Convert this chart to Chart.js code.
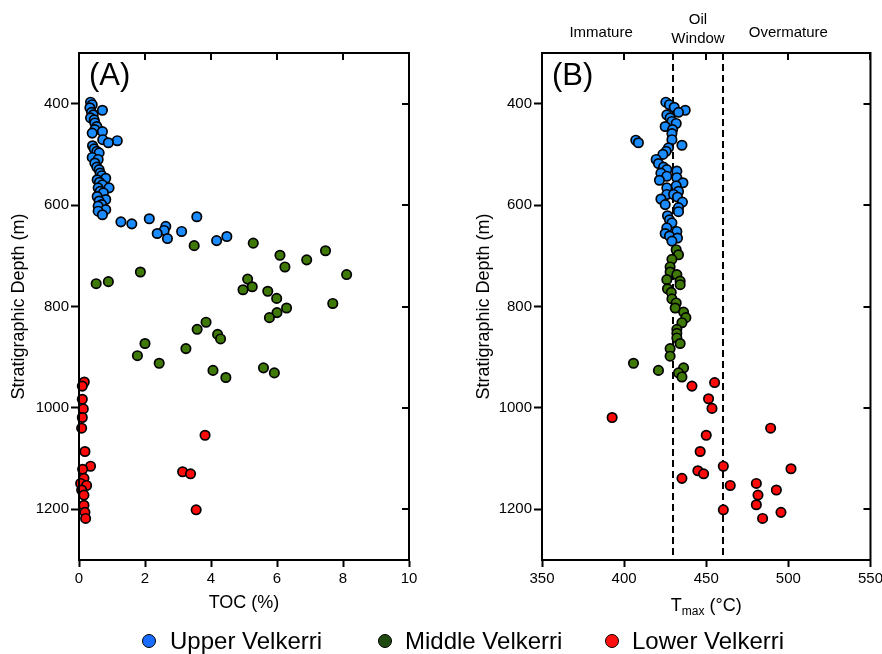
<!DOCTYPE html>
<html>
<head>
<meta charset="utf-8">
<script src="https://cdn.jsdelivr.net/npm/chart.js@4.4.1/dist/chart.umd.min.js"></script>
<style>
  html, body { margin: 0; padding: 0; background: #fff; }
  body { width: 882px; height: 654px; position: relative; overflow: hidden; font-family: "Liberation Sans", Arial, sans-serif; }
  .panel { position: absolute; top: 0; width: 441px; height: 654px; }
  #panelA { left: 0; }
  #panelB { left: 441px; width: 445px; }
  #legend { position: absolute; left: 0; top: 626px; width: 882px; height: 30px; font-size: 24px; color: #000; }
  #legend span { position: absolute; top: 0; white-space: nowrap; line-height: 30px; }
  #legend i { position: absolute; top: 8px; width: 12px; height: 12px; border-radius: 50%; border: 1px solid #000; }
</style>
</head>
<body>
<div class="panel" id="panelA"><canvas id="chartA"></canvas></div>
<div class="panel" id="panelB"><canvas id="chartB"></canvas></div>
<div id="legend">
  <i style="left:142px;background:#1a6cff"></i><span style="left:170px">Upper Velkerri</span>
  <i style="left:378px;background:#1f4a10"></i><span style="left:405px">Middle Velkerri</span>
  <i style="left:605px;background:#ff1010"></i><span style="left:632px">Lower Velkerri</span>
</div>
<script>
// axis ticks
const depthTicks = [400, 600, 800, 1000, 1200];
const tocTicks = [0, 2, 4, 6, 8, 10];
const tmaxTicks = [350, 400, 450, 500, 550];

// oil window bounds and zone labels (panel B)
const windowBounds = [430, 460];
const zoneLabels = [['Immature'], ['Oil', 'Window'], ['Overmature']];
const zonePositions = [386, 445, 500];

// Panel A: TOC (%) vs depth (m)
const upperToc = [0.35, 0.40, 0.33, 0.71, 0.38, 0.43, 0.35, 0.46, 0.48, 0.54, 0.48, 0.71, 0.40, 0.72, 1.16, 0.89, 0.41, 0.46, 0.54, 0.61, 0.40, 0.58, 0.48, 0.54, 0.61, 0.64, 0.69, 0.81, 0.55, 0.62, 0.71, 0.91, 0.58, 0.64, 0.74, 0.55, 0.81, 0.61, 0.69, 0.58, 0.81, 0.58, 0.71, 3.57, 2.13, 1.27, 1.60, 2.63, 2.58, 3.11, 2.37, 4.48, 2.68, 4.17];
const upperTocDepth = [397, 402, 408, 413, 417, 422, 428, 432, 438, 445, 451, 455, 458, 471, 473, 477, 483, 489, 494, 497, 506, 510, 517, 525, 530, 537, 542, 547, 550, 555, 560, 566, 566, 573, 576, 583, 589, 592, 599, 602, 609, 612, 619, 623, 627, 633, 637, 642, 650, 652, 656, 662, 666, 670];

const middleToc = [5.28, 3.49, 7.47, 6.09, 6.90, 6.24, 1.86, 8.11, 5.11, 0.89, 0.52, 5.25, 4.97, 5.72, 5.99, 7.69, 6.29, 6.00, 5.77, 3.85, 3.58, 4.20, 4.29, 2.00, 3.24, 1.77, 2.43, 5.59, 4.06, 5.92, 4.45];
const middleTocDepth = [675, 680, 690, 699, 708, 722, 732, 737, 746, 751, 755, 761, 767, 770, 784, 794, 803, 812, 822, 831, 845, 855, 864, 873, 883, 897, 912, 921, 926, 931, 940];

const lowerToc = [0.16, 0.10, 0.10, 0.13, 0.10, 0.08, 3.82, 0.18, 0.35, 0.11, 3.14, 3.38, 0.15, 0.05, 0.23, 0.08, 0.15, 0.15, 3.55, 0.18, 0.20];
const lowerTocDepth = [949, 957, 983, 1002, 1019, 1040, 1054, 1086, 1115, 1121, 1126, 1130, 1139, 1149, 1153, 1162, 1172, 1192, 1201, 1206, 1218];

// Panel B: Tmax (°C) vs depth (m)
const upperTmax = [425.4, 427.6, 430.5, 437.2, 433.1, 426.0, 428.0, 429.1, 431.7, 425.0, 429.5, 429.1, 429.1, 407.1, 408.7, 435.2, 427.0, 425.6, 423.6, 419.5, 420.9, 424.0, 426.0, 432.1, 422.4, 426.0, 432.1, 421.5, 435.8, 431.7, 426.0, 433.1, 426.0, 430.1, 432.5, 422.4, 435.5, 425.0, 433.1, 433.1, 426.4, 427.6, 429.1, 426.0, 432.1, 425.0, 427.6, 432.5, 429.1];
const upperTmaxDepth = [397, 402, 407, 413, 417, 422, 428, 435, 439, 445, 451, 459, 471, 472, 477, 482, 487, 494, 500, 510, 518, 525, 530, 533, 537, 543, 546, 551, 556, 562, 566, 573, 579, 579, 584, 588, 594, 599, 605, 613, 621, 629, 635, 645, 652, 656, 661, 665, 671];

const middleTmax = [431.7, 433.1, 429.1, 428.0, 428.0, 432.1, 426.0, 434.1, 434.1, 426.4, 428.7, 429.1, 431.7, 431.1, 436.2, 437.6, 435.2, 432.1, 432.1, 432.1, 434.1, 428.0, 428.0, 405.7, 436.2, 420.9, 433.1, 435.2];
const middleTmaxDepth = [688, 698, 707, 722, 732, 737, 747, 750, 757, 765, 772, 785, 793, 803, 811, 822, 832, 845, 853, 862, 873, 883, 898, 912, 921, 926, 931, 939];

const lowerTmax = [455.1, 441.3, 451.4, 453.5, 392.7, 489.2, 450.0, 446.3, 460.4, 501.6, 444.9, 448.4, 435.2, 480.5, 464.6, 492.7, 481.5, 480.5, 460.4, 495.5, 484.3];
const lowerTmaxDepth = [950, 957, 982, 1001, 1019, 1040, 1054, 1086, 1115, 1120, 1124, 1130, 1139, 1149, 1153, 1162, 1172, 1191, 1201, 1206, 1218];

const colors = { upper: '#1a8cff', middle: '#3f7a08', lower: '#ff0a0a' };
const FONT = '"Liberation Sans", Arial, sans-serif';

Chart.defaults.font.family = FONT;
Chart.defaults.color = '#000';

function pairs(xs, ys) {
    return xs.map((v, i) => ({ x: v, y: ys[i] }));
}

function series(label, xs, ys, color) {
    return {
        label: label,
        data: pairs(xs, ys),
        backgroundColor: color,
        borderColor: '#000',
        borderWidth: 1.7,
        pointRadius: 4.7,
        pointHoverRadius: 4.7,
        clip: false
    };
}

// frame, mirrored inward ticks on top/right, panel letter, extras
const framePlugin = {
    id: 'frame',
    beforeDatasetsDraw(chart, args, opts) {
        const { ctx, chartArea: a, scales: { x } } = chart;
        if (!opts.dashes) return;
        ctx.save();
        ctx.strokeStyle = '#000';
        ctx.lineWidth = 2;
        ctx.setLineDash([7, 4]);
        opts.dashes.forEach(v => {
            const px = Math.round(x.getPixelForValue(v));
            ctx.beginPath();
            ctx.moveTo(px, a.top);
            ctx.lineTo(px, a.bottom);
            ctx.stroke();
        });
        ctx.restore();
    },
    afterDraw(chart, args, opts) {
        const { ctx, chartArea: a, scales: { x, y } } = chart;
        ctx.save();
        ctx.strokeStyle = '#000';
        ctx.lineWidth = 2;
        ctx.strokeRect(a.left, a.top, a.width, a.height);
        ctx.beginPath();
        x.ticks.forEach(t => {
            const px = Math.round(x.getPixelForValue(t.value));
            ctx.moveTo(px, a.top);
            ctx.lineTo(px, a.top + 7);
        });
        y.ticks.forEach(t => {
            const py = Math.round(y.getPixelForValue(t.value));
            ctx.moveTo(a.right, py);
            ctx.lineTo(a.right - 7, py);
        });
        ctx.stroke();

        ctx.fillStyle = '#000';
        ctx.font = '31px ' + FONT;
        ctx.textAlign = 'left';
        ctx.textBaseline = 'alphabetic';
        ctx.fillText(opts.letter, a.left + 10, a.top + 32);

        if (opts.zones) {
            ctx.font = '15px ' + FONT;
            ctx.textAlign = 'center';
            ctx.textBaseline = 'middle';
            opts.zones.forEach((lines, i) => {
                const px = x.getPixelForValue(opts.zonePos[i]);
                if (lines.length === 1) {
                    ctx.fillText(lines[0], px, 33);
                } else {
                    ctx.fillText(lines[0], px, 20);
                    ctx.fillText(lines[1], px, 39);
                }
            });
        }
        if (opts.tmaxTitle) {
            const cx = (a.left + a.right) / 2;
            ctx.font = '18px ' + FONT;
            ctx.textBaseline = 'alphabetic';
            ctx.textAlign = 'left';
            const tW = ctx.measureText('T').width;
            const rest = ' (°C)';
            const rW = ctx.measureText(rest).width;
            ctx.font = '12px ' + FONT;
            const mW = ctx.measureText('max').width;
            let sx = cx - (tW + mW + rW) / 2;
            const base = 611;
            ctx.font = '18px ' + FONT;
            ctx.fillText('T', sx, base);
            ctx.font = '12px ' + FONT;
            ctx.fillText('max', sx + tW, base + 4);
            ctx.font = '18px ' + FONT;
            ctx.fillText(rest, sx + tW + mW, base);
        }
        ctx.restore();
    }
};

function makeChart(id, cfg) {
    const leftPad = cfg.leftPad;
    return new Chart(document.getElementById(id), {
        type: 'scatter',
        data: { datasets: cfg.datasets },
        options: {
            responsive: true,
            maintainAspectRatio: false,
            animation: false,
            events: [],
            layout: { padding: { top: 53, right: cfg.rightPad, bottom: 40, left: leftPad } },
            plugins: {
                legend: { display: false },
                tooltip: { enabled: false },
                frame: cfg.frame
            },
            scales: {
                x: {
                    type: 'linear',
                    min: cfg.xMin,
                    max: cfg.xMax,
                    afterBuildTicks: s => { s.ticks = cfg.xTicks.map(v => ({ value: v })); },
                    afterFit: s => { s.height = 54; },
                    grid: { display: true, drawOnChartArea: false, drawTicks: true, tickLength: 7, tickWidth: 2, color: '#000' },
                    border: { display: true, color: '#000', width: 2 },
                    ticks: { font: { size: 15 }, padding: 3, maxRotation: 0, color: '#000', callback: v => String(v) },
                    title: { display: !!cfg.xTitle, text: cfg.xTitle, font: { size: 18 }, padding: 0, color: '#000' }
                },
                y: {
                    type: 'linear',
                    reverse: true,
                    min: 300,
                    max: 1300,
                    afterBuildTicks: s => { s.ticks = depthTicks.map(v => ({ value: v })); },
                    afterFit: s => { s.width = cfg.yWidth; },
                    grid: { display: true, drawOnChartArea: false, drawTicks: true, tickLength: 8, tickWidth: 2, color: '#000' },
                    border: { display: true, color: '#000', width: 2 },
                    ticks: { font: { size: 15 }, padding: 2, color: '#000', callback: v => String(v) },
                    title: { display: true, text: 'Stratigraphic Depth (m)', font: { size: 18 }, padding: 0, color: '#000' }
                }
            }
        },
        plugins: [framePlugin]
    });
}

makeChart('chartA', {
    datasets: [
        series('Upper Velkerri', upperToc, upperTocDepth, colors.upper),
        series('Middle Velkerri', middleToc, middleTocDepth, colors.middle),
        series('Lower Velkerri', lowerToc, lowerTocDepth, colors.lower)
    ],
    xMin: 0, xMax: 10, xTicks: tocTicks, xTitle: 'TOC (%)',
    leftPad: 8, yWidth: 71, rightPad: 32,
    frame: { letter: '(A)' }
});

makeChart('chartB', {
    datasets: [
        series('Upper Velkerri', upperTmax, upperTmaxDepth, colors.upper),
        series('Middle Velkerri', middleTmax, middleTmaxDepth, colors.middle),
        series('Lower Velkerri', lowerTmax, lowerTmaxDepth, colors.lower)
    ],
    xMin: 350, xMax: 550, xTicks: tmaxTicks, xTitle: '',
    leftPad: 32, yWidth: 69, rightPad: 12,
    frame: { letter: '(B)', dashes: windowBounds, zones: zoneLabels, zonePos: zonePositions, tmaxTitle: true }
});
</script>
</body>
</html>
